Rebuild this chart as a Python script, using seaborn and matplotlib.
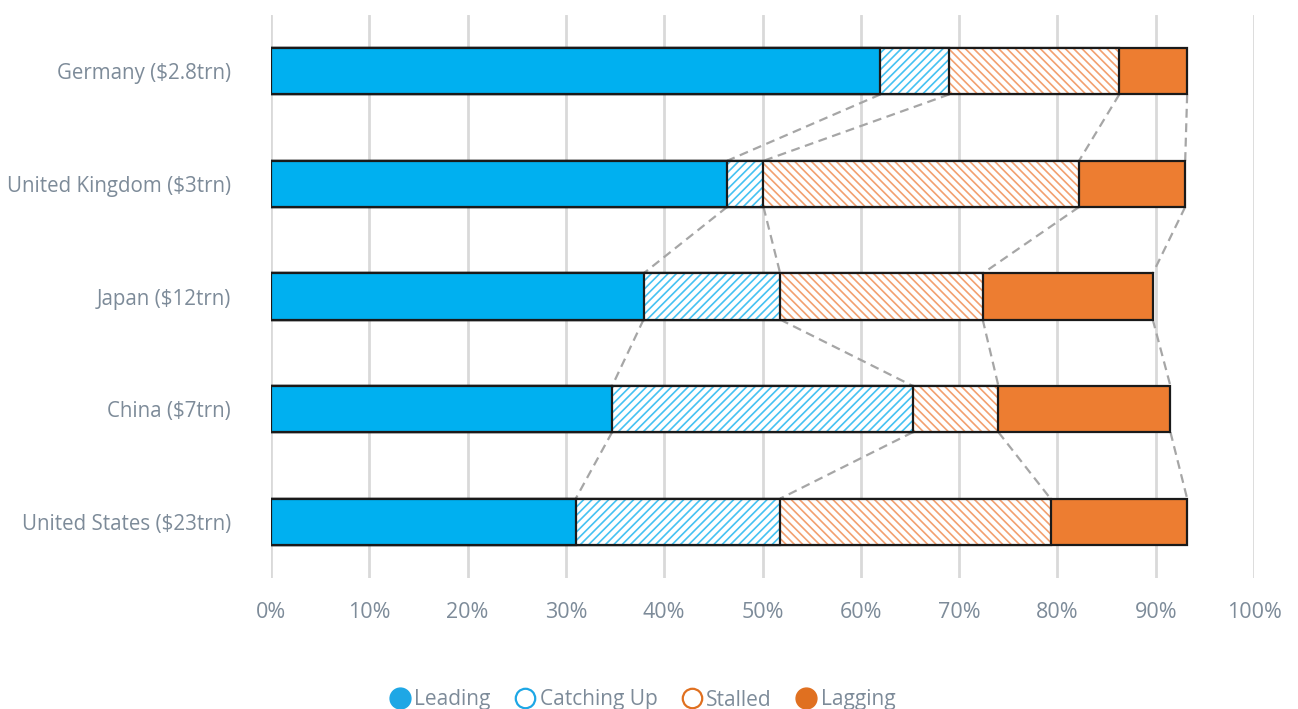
import numpy as np
import pandas as pd
import matplotlib
matplotlib.use("Agg")
import matplotlib.pyplot as plt
from matplotlib.lines import Line2D
import seaborn as sns

countries = ["Germany ($2.8trn)", "United Kingdom ($3trn)", "Japan ($12trn)",
             "China ($7trn)", "United States ($23trn)"]
leading = [62.0, 46.4, 37.9, 34.7, 31.0]
catching_up = [7.0, 3.7, 13.9, 30.6, 20.8]
stalled = [17.3, 32.1, 20.6, 8.7, 27.5]
lagging = [6.9, 10.8, 17.3, 17.5, 13.9]
categories = ["Leading", "Catching Up", "Stalled", "Lagging"]

BLUE = "#00B0F0"
ORANGE = "#ED7D31"
TEXT = "#7D8B99"
GRID = "#D9D9D9"

sns.set_theme(style="white")
plt.rcParams["font.family"] = ["Open Sans", "DejaVu Sans"]
plt.rcParams["hatch.linewidth"] = 1.2

df = pd.DataFrame({"country": countries, "Leading": leading,
                   "Catching Up": catching_up, "Stalled": stalled,
                   "Lagging": lagging})
cum = df[categories].cumsum(axis=1)

fig = plt.figure(figsize=(12.98, 7.09), dpi=100)
ax = fig.add_axes([271 / 1298, 1 - 578 / 709, (1254 - 271) / 1298, (578 - 15) / 709])

bar_h = 0.41
# segment styles: (face, hatch colour, hatch)
styles = {
    "Lagging": (ORANGE, None, None),
    "Stalled": ("white", "#F2A070", "\\\\\\\\"),
    "Catching Up": ("white", "#45C2F2", "////"),
    "Leading": (BLUE, None, None),
}

# stacked bars: draw cumulative totals from the widest down, each layer above the last
z = 3
for cat in categories[::-1]:
    face, hcol, hatch = styles[cat]
    data = pd.DataFrame({"country": countries, "value": cum[cat]})
    if hatch:
        sns.barplot(data=data, x="value", y="country", orient="h", color=face,
                    width=bar_h, edgecolor=hcol, hatch=hatch, linewidth=0,
                    saturation=1, ax=ax, zorder=z)
        sns.barplot(data=data, x="value", y="country", orient="h", fill=False,
                    width=bar_h, edgecolor="#1A1A1A", linewidth=1.6,
                    saturation=1, ax=ax, zorder=z + 1)
    else:
        sns.barplot(data=data, x="value", y="country", orient="h", color=face,
                    width=bar_h, edgecolor="#1A1A1A", linewidth=1.6,
                    saturation=1, ax=ax, zorder=z + 1)
    z += 2

# dashed connectors between segment boundaries of neighbouring bars
for i in range(len(countries) - 1):
    for cat in categories:
        ax.plot([cum[cat].iloc[i], cum[cat].iloc[i + 1]],
                [i + bar_h / 2, i + 1 - bar_h / 2],
                color="#A6A6A6", lw=1.6, ls=(0, (4, 2.5)), zorder=2)

ax.set_xlim(0, 100)
ax.set_ylim(4.5, -0.5)
ax.set_xticks(np.arange(0, 101, 10))
ax.set_xticklabels([f"{v}%" for v in range(0, 101, 10)])
ax.xaxis.grid(True, color=GRID, lw=2, zorder=0)
ax.set_axisbelow(True)
for s in ax.spines.values():
    s.set_visible(False)
ax.set_xlabel("")
ax.set_ylabel("")
ax.tick_params(axis="both", length=0, labelcolor=TEXT)
ax.tick_params(axis="x", pad=17, labelsize=15.5)
ax.tick_params(axis="y", pad=29, labelsize=14.8)

handles = [
    Line2D([], [], marker="o", ls="", markersize=15, markerfacecolor="#1EA7E5", markeredgecolor="#1EA7E5"),
    Line2D([], [], marker="o", ls="", markersize=14, markerfacecolor="white", markeredgecolor="#1EA7E5", markeredgewidth=1.6),
    Line2D([], [], marker="o", ls="", markersize=14, markerfacecolor="white", markeredgecolor="#E07020", markeredgewidth=1.6),
    Line2D([], [], marker="o", ls="", markersize=15, markerfacecolor="#E07020", markeredgecolor="#E07020"),
]
leg = fig.legend(handles, categories, loc="center", bbox_to_anchor=(0.495, 1 - 700 / 709),
                 ncol=4, frameon=False, fontsize=15, handletextpad=0.2,
                 columnspacing=1.15, handlelength=1.0)
for t in leg.get_texts():
    t.set_color(TEXT)

fig.savefig("out.png", dpi=100)
